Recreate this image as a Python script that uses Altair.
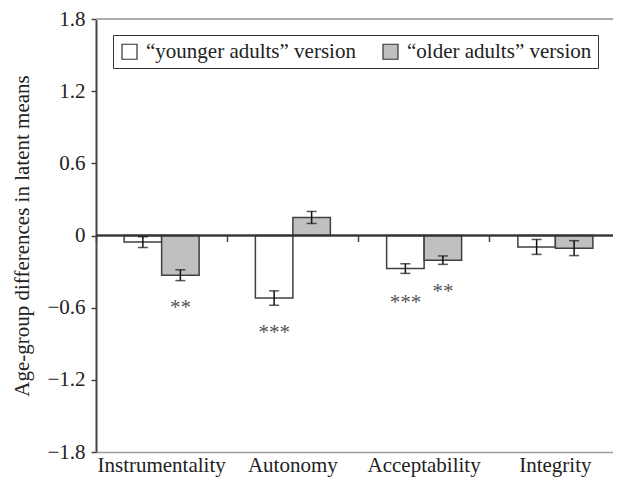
import altair as alt
import pandas as pd

categories = ["Instrumentality", "Autonomy", "Acceptability", "Integrity"]
series = ["\u201cyounger adults\u201d version", "\u201colder adults\u201d version"]
younger = [-0.055, -0.52, -0.275, -0.095]
older = [-0.33, 0.15, -0.205, -0.105]
younger_err = [0.045, 0.06, 0.04, 0.062]
older_err = [0.045, 0.05, 0.035, 0.062]
younger_stars = ["", "***", "***", ""]
older_stars = ["**", "", "**", ""]
younger_star_pos = [0, -0.77, -0.52, 0]
older_star_pos = [-0.56, 0, -0.43, 0]
y_ticks = [-1.8, -1.2, -0.6, 0, 0.6, 1.2, 1.8]

rows = []
for s, vals, errs, stars, spos in [
    (series[0], younger, younger_err, younger_stars, younger_star_pos),
    (series[1], older, older_err, older_stars, older_star_pos),
]:
    for c, v, e, st, sp in zip(categories, vals, errs, stars, spos):
        rows.append(dict(category=c, series=s, value=v, lo=v - e, hi=v + e, star=st, star_y=sp))
df = pd.DataFrame(rows)
cat_df = pd.DataFrame({"category": categories})

FONT = "Liberation Serif"
W, H = 517, 433

xscale = alt.Scale(domain=categories, range=[0, 525], paddingInner=0, paddingOuter=0)
xoff = alt.XOffset("series:N", sort=series,
                   scale=alt.Scale(domain=series, paddingInner=0, paddingOuter=0.75))
yscale = alt.Scale(domain=[-1.8, 1.8], nice=False, zero=False)
x_plain = alt.X("category:N", sort=categories, scale=xscale, axis=None)

x_main = alt.X("category:N", sort=categories, scale=xscale,
               axis=alt.Axis(title=None, orient="bottom", labelAngle=0, ticks=False,
                             domain=True, domainColor="#9a9a9a", domainWidth=1.5,
                             labelFont=FONT, labelFontSize=21, labelColor="#222",
                             labelPadding=2, grid=False))
y_main = alt.Y("value:Q", scale=yscale,
               axis=alt.Axis(title="Age-group differences in latent means", values=y_ticks,
                             labelExpr="datum.value == 0 ? '0' : replace(format(datum.value, '.1f'), '-', '\u2212')",
                             domainColor="#444", domainWidth=2, tickColor="#444", tickSize=5,
                             tickWidth=1.5, labelFont=FONT, labelFontSize=21, labelColor="#222",
                             labelPadding=6, titleFont=FONT, titleFontSize=21,
                             titleFontWeight="normal", titleColor="#222", titlePadding=14,
                             grid=False))

bars = alt.Chart(df).mark_bar(stroke="#404040", strokeWidth=1.5).encode(
    x=x_main,
    xOffset=xoff,
    y=y_main,
    color=alt.Color("series:N", sort=series,
                    scale=alt.Scale(domain=series, range=["#ffffff", "#c0c0c0"]),
                    legend=alt.Legend(title=None, orient="none", legendX=17, legendY=16,
                                      direction="horizontal", columns=2,
                                      symbolType="square", symbolSize=225,
                                      symbolStrokeColor="#333", symbolStrokeWidth=1.2,
                                      labelFont=FONT, labelFontSize=21, labelColor="#222",
                                      labelOffset=6, columnPadding=24, padding=6,
                                      strokeColor="#333", fillColor="#ffffff",
                                      labelLimit=400)),
)

top_line = alt.Chart(cat_df).mark_rule(color="#aaaaaa", strokeWidth=1.5).encode(
    y=alt.datum(1.8))
zero_line = alt.Chart(cat_df).mark_rule(color="#333", strokeWidth=1.5).encode(
    y=alt.datum(0))

boundary = alt.Chart(cat_df).mark_point(opacity=0).encode(
    x=alt.X("category:N", sort=categories, scale=xscale,
            axis=alt.Axis(title=None, orient="bottom", offset=-H / 2, labels=False,
                          domain=False, ticks=True, tickSize=6, tickWidth=1.5,
                          tickColor="#444", bandPosition=0, grid=False)),
    y=alt.datum(0),
)

rule_err = alt.Chart(df).mark_rule(color="#111", strokeWidth=1.5).encode(
    x=x_plain, xOffset=xoff,
    y=alt.Y("lo:Q", scale=yscale), y2="hi:Q")
cap_lo = alt.Chart(df).mark_tick(color="#111", size=10, thickness=1.5, orient="horizontal").encode(
    x=x_plain, xOffset=xoff,
    y=alt.Y("lo:Q", scale=yscale))
cap_hi = alt.Chart(df).mark_tick(color="#111", size=10, thickness=1.5, orient="horizontal").encode(
    x=x_plain, xOffset=xoff,
    y=alt.Y("hi:Q", scale=yscale))

stars = alt.Chart(df).transform_filter("datum.star != ''").mark_text(
    font=FONT, fontSize=21, color="#555", baseline="middle", dy=5).encode(
    x=x_plain, xOffset=xoff,
    y=alt.Y("star_y:Q", scale=yscale), text="star:N")

chart = alt.layer(top_line, bars, zero_line, rule_err, cap_lo, cap_hi, stars, boundary).resolve_axis(
    x="independent").properties(
    width=W, height=H,
    autosize=alt.AutoSizeParams(type="none"),
    padding={"left": 88, "top": 11, "right": 0, "bottom": 25},
).configure_view(stroke=None)

chart.save("out.html", embed_options={"renderer": "svg", "actions": False})
